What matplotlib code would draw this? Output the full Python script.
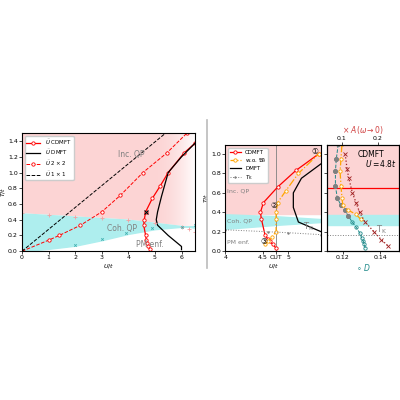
import numpy as np
import matplotlib.pyplot as plt

# panel (a)
u_2x2 = [0, 1, 1.4, 2.2, 3.0, 3.7, 4.55, 5.45, 6.2]
t_2x2 = [0, 0.14, 0.2, 0.33, 0.5, 0.71, 1.0, 1.25, 1.5]
u_1x1 = [0, 5.4]
t_1x1 = [0, 1.5]
u_cd = [4.8, 4.75, 4.7, 4.68, 4.65, 4.58, 4.6, 4.65, 4.9, 5.2, 5.5, 6.1, 6.5]
t_cd = [0.03, 0.07, 0.11, 0.14, 0.2, 0.33, 0.4, 0.5, 0.67, 0.83, 1.0, 1.25, 1.37]
u_dm = [6.0, 6.0, 5.5, 5.1, 5.05, 5.1, 5.25, 5.5, 6.0, 6.5]
t_dm = [0.02, 0.06, 0.2, 0.33, 0.4, 0.5, 0.7, 1.0, 1.2, 1.37]
u_tk = [0, 1, 2, 3, 4, 5, 6, 6.3, 6.5]
t_tk = [0.48, 0.46, 0.44, 0.42, 0.4, 0.36, 0.31, 0.28, 0.25]
u_tc = [2, 3, 3.9, 4.9, 6.0, 6.5]
t_tc = [0.08, 0.16, 0.23, 0.3, 0.31, 0.33]
band_u = [0, 1, 2, 3, 4, 5, 6, 6.5]
band_top = [0.48, 0.46, 0.44, 0.42, 0.4, 0.36, 0.32, 0.3]
band_bot = [0.0, 0.03, 0.07, 0.14, 0.22, 0.28, 0.31, 0.32]

# panel (b)
u_b_cd = [4.76, 4.7, 4.63, 4.59, 4.54, 4.47, 4.45, 4.51, 4.79, 5.15, 5.6]
t_b_cd = [0.03, 0.07, 0.1, 0.13, 0.17, 0.33, 0.4, 0.5, 0.66, 0.83, 1.0]
u_b_wo = [4.55, 4.6, 4.68, 4.76, 4.76, 4.76, 4.79, 4.95, 5.2, 5.6]
t_b_wo = [0.07, 0.1, 0.15, 0.2, 0.33, 0.4, 0.5, 0.62, 0.8, 1.0]
u_b_dm = [5.65, 5.2, 5.1, 5.1, 5.26, 5.65]
t_b_dm = [0.2, 0.3, 0.45, 0.6, 0.75, 0.9]
u_b_tk = [3.76, 4.6, 5.0, 5.65]
t_b_tk = [0.22, 0.2, 0.19, 0.17]

# panel (c)
d_cd = [0.1175, 0.1165, 0.116, 0.116, 0.117, 0.119, 0.121, 0.123, 0.125, 0.127, 0.129, 0.130, 0.131, 0.1315, 0.132]
t_cd3 = [1.1, 0.95, 0.82, 0.67, 0.55, 0.47, 0.42, 0.36, 0.3, 0.25, 0.19, 0.14, 0.1, 0.07, 0.03]
d_wo = [0.1195, 0.119, 0.1185, 0.119, 0.1195, 0.12, 0.123, 0.127, 0.1295]
t_wo3 = [1.1, 0.95, 0.82, 0.67, 0.55, 0.47, 0.42, 0.38, 0.33]
a_x = [0.11, 0.115, 0.12, 0.13, 0.14, 0.15, 0.165, 0.19, 0.21, 0.23]
t_a = [1.0, 0.85, 0.75, 0.6, 0.5, 0.4, 0.3, 0.2, 0.12, 0.05]

pink = '#fcd4d4'
cyan = '#aeeeee'
plt.rcParams['font.size'] = 4.5
fig = plt.figure(figsize=(4, 4), dpi=100)

ax = fig.add_axes([0.055, 0.372, 0.432, 0.295])
ax.set_xlim(0, 6.5)
ax.set_ylim(0, 1.5)
ax.fill_between([0, 6.5], 0, 1.5, color=pink, zorder=0)
ax.imshow(np.linspace(0, 1, 100)[None, :] ** 2, extent=[4.8, 6.5, 0, 1.5], aspect='auto',
          cmap=plt.matplotlib.colors.LinearSegmentedColormap.from_list('w', [(1, 1, 1, 0), (1, 1, 1, 1)]), zorder=0.5)
ax.fill_between(band_u, 0, band_top, color='white', zorder=0.6)
ax.fill_between(band_u, band_bot, band_top, color=cyan, zorder=0.7)
ax.plot(u_cd, t_cd, 'r-o', ms=2.4, mfc='white', mew=0.6, lw=0.9, label=r'$\tilde{U}$ CDMFT')
ax.plot(u_dm, t_dm, 'k-', lw=0.9, label=r'$\tilde{U}$ DMFT')
ax.plot(u_2x2, t_2x2, 'r--o', ms=2.4, mfc='white', mew=0.6, lw=0.7, label=r'$\tilde{U}$ $2\times2$')
ax.plot(u_1x1, t_1x1, 'k--', lw=0.7, label=r'$\tilde{U}$ $1\times1$')
ax.plot(u_tk, t_tk, '+', color='#f4a0a0', ms=2.5, mew=0.6)
ax.plot(u_tc, t_tc, 'x', color='#40b0b0', ms=1.8, mew=0.6)
ax.plot([4.65], [0.5], 'kx', ms=3, mew=0.8)
ax.text(3.6, 1.2, 'Inc. QP', color='gray', fontsize=5.5)
ax.text(3.2, 0.26, 'Coh. QP', color='gray', fontsize=5.5)
ax.text(4.3, 0.05, 'PM enf.', color='gray', fontsize=5.5)
ax.set_xlabel(r'$U/t$', labelpad=1)
ax.set_ylabel(r'$T/t$', labelpad=1)
ax.set_yticks(np.arange(0, 1.41, 0.2))
ax.tick_params(length=2, pad=1, width=0.5)
ax.legend(loc='upper left', fontsize=4, framealpha=1, handlelength=2.5, borderpad=0.3, labelspacing=0.3)

fig.add_artist(plt.Line2D([0.517, 0.517], [0.33, 0.70], color='#bbbbbb', lw=1.2))

ax2 = fig.add_axes([0.563, 0.372, 0.24, 0.265])
ax2.set_xlim(3.755, 5.65)
ax2.set_ylim(0, 1.09)
ax2.fill_between([3.755, 5.65], 0.38, 1.09, color=pink, zorder=0)
ax2.fill_between([3.755, 4.75, 5.65], [0.23, 0.27, 0.3], [0.38, 0.36, 0.33], color=cyan, zorder=0)
ax2.axvline(4.75, color='gray', lw=0.6)
ax2.plot(u_b_cd, t_b_cd, 'r-o', ms=2.4, mfc='white', mew=0.6, lw=0.9, label='CDMFT')
ax2.plot(u_b_wo, t_b_wo, '-.o', color='orange', ms=2.4, mfc='white', mew=0.6, lw=0.9, label=r'w.o. $\mathfrak{W}$')
ax2.plot(u_b_dm, t_b_dm, 'k-', lw=0.9, label='DMFT')
ax2.plot(u_b_tk, t_b_tk, ':+', color='gray', ms=2, lw=0.7, label=r'$T_{\rm K}$')
ax2.text(3.8, 0.6, 'Inc. QP', color='gray', fontsize=4.5)
ax2.text(3.8, 0.3, 'Coh. QP', color='gray', fontsize=4.5)
ax2.text(3.8, 0.07, 'PM enf.', color='gray', fontsize=4.5)
ax2.text(5.3, 0.22, r'$\mathrm{T_K}$', color='gray', fontsize=6)
for x, y, s in [(5.45, 1.0, '①'), (4.65, 0.44, '②'), (4.45, 0.07, '③')]:
    ax2.text(x, y, s, fontsize=5.5, family=['DejaVu Sans'])
ax2.set_xticks([3.76, 4.5, 4.75, 5])
ax2.set_xticklabels(['4', '4.5', 'CUT', '5'])
ax2.set_yticks(np.arange(0, 1.01, 0.2))
ax2.set_xlabel(r'$U/t$', labelpad=1)
ax2.set_ylabel(r'$T/t$', labelpad=1)
ax2.tick_params(length=2, pad=1, width=0.5)
ax2.legend(loc='upper left', fontsize=4, framealpha=1, borderpad=0.3, labelspacing=0.3)

ax3 = fig.add_axes([0.818, 0.372, 0.18, 0.265])
ax3.set_xlim(0.1116, 0.1502)
ax3.set_ylim(0, 1.09)
ax3.fill_between([0.1116, 0.1502], 0.37, 1.09, color=pink, zorder=0)
ax3.fill_between([0.1116, 0.1502], 0.27, 0.37, color=cyan, zorder=0)
ax3.axhline(0.65, color='red', lw=0.9)
ax3.axhline(0.17, color='gray', ls=':', lw=0.7)
ax3.plot(d_cd, t_cd3, '--o', color='#1f8a8a', mfc='none', ms=2.4, mew=0.6, lw=0.7)
ax3.plot(d_cd[:8], t_cd3[:8], 'o', color='gray', ms=2.6)
ax3.plot(d_wo, t_wo3, '-.o', color='orange', mfc='white', ms=2.4, mew=0.6, lw=0.9)
ax3.text(0.138, 0.19, r'$\mathrm{T_K}$', color='gray', fontsize=6)
ax3.text(0.128, 0.97, 'CDMFT', fontsize=5.5)
ax3.text(0.132, 0.87, r'$U=4.8t$', fontsize=5.5)
ax3.set_xticks([0.12, 0.14])
ax3.set_yticks(np.arange(0, 1.01, 0.2))
ax3.set_yticklabels([])
ax3.set_xlabel(r'$\circ\ D$', color='#1f8a8a', labelpad=1, fontsize=5.5)
ax3.tick_params(length=2, pad=1, width=0.5)
ax3t = ax3.twiny()
ax3t.set_xlim(0.06, 0.26)
ax3t.plot(a_x, t_a, ':x', color='#a02020', ms=2.5, mew=0.6, lw=0.9)
ax3t.set_xticks([0.1, 0.2])
ax3t.set_xlabel(r'$\times\ A(\omega\to0)$', color='#d04040', labelpad=2, fontsize=5.5)
ax3t.tick_params(length=2, pad=1, width=0.5)

fig.savefig('out.png', dpi=100)
